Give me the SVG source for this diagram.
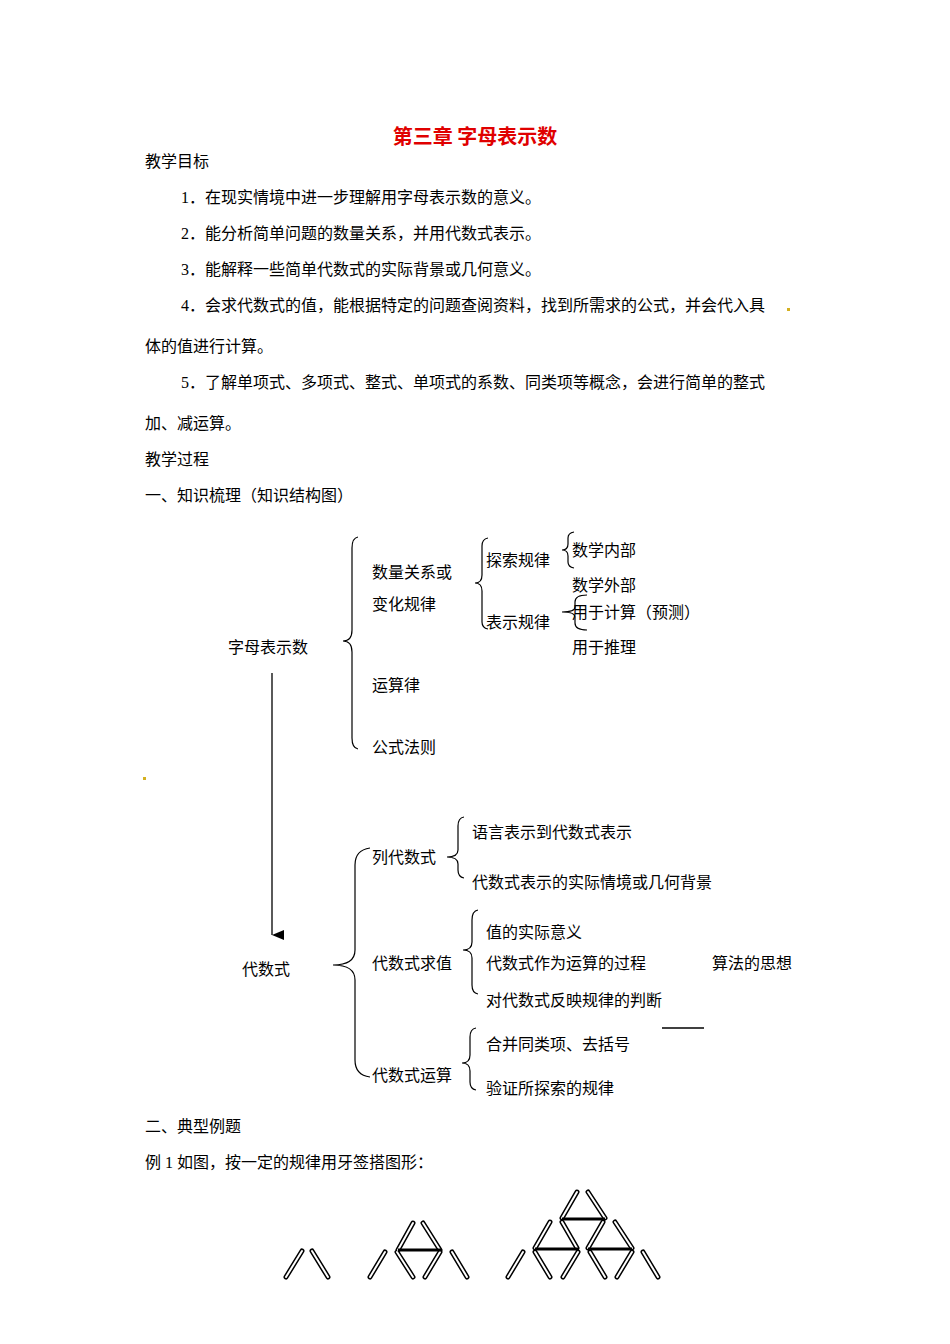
<svg xmlns="http://www.w3.org/2000/svg" width="950" height="1344" viewBox="0 0 950 1344">
<style>
text{font-family:"Liberation Serif","Noto Sans CJK SC",serif;font-size:16px;fill:#000}
.t{font-size:20px;font-weight:bold;fill:#e00000;font-family:"Noto Sans CJK SC",sans-serif}
.b{fill:none;stroke:#000;stroke-width:1.2}
.so{stroke:#000;stroke-width:5;stroke-linecap:round}
.si{stroke:#fff;stroke-width:2;stroke-linecap:round}
.h{stroke:#000;stroke-width:3}
</style>
<defs><marker id="ar" markerWidth="10" markerHeight="12" refX="5" refY="12" orient="auto" markerUnits="userSpaceOnUse"><path d="M0,0 L10,0 L5,12 Z" fill="#000"/></marker></defs>
<rect width="950" height="1344" fill="#fff"/>
<text class="t" x="475" y="144" text-anchor="middle">第三章  字母表示数</text>
<text x="145" y="167">教学目标</text>
<text x="181" y="203">1．在现实情境中进一步理解用字母表示数的意义。</text>
<text x="181" y="239">2．能分析简单问题的数量关系，并用代数式表示。</text>
<text x="181" y="275">3．能解释一些简单代数式的实际背景或几何意义。</text>
<text x="181" y="311">4．会求代数式的值，能根据特定的问题查阅资料，找到所需求的公式，并会代入具</text>
<text x="145" y="352">体的值进行计算。</text>
<text x="181" y="388">5．了解单项式、多项式、整式、单项式的系数、同类项等概念，会进行简单的整式</text>
<text x="145" y="429">加、减运算。</text>
<text x="145" y="465">教学过程</text>
<text x="145" y="501">一、知识梳理（知识结构图）</text>
<rect x="787" y="308" width="3" height="3" fill="#d4b020"/>
<rect x="143" y="777" width="3" height="3" fill="#d4b020"/>
<g id="n-root"><text x="228" y="653">字母表示数</text></g>
<g id="n-1"><text x="372" y="578">数量关系或</text><text x="372" y="610">变化规律</text></g>
<g id="n-1a"><text x="486" y="566">探索规律</text></g>
<g id="n-1b"><text x="486" y="628">表示规律</text></g>
<g id="n-1a1"><text x="572" y="556">数学内部</text></g>
<g id="n-1a2"><text x="572" y="591">数学外部</text></g>
<g id="n-1b1"><text x="572" y="618">用于计算（预测）</text></g>
<g id="n-1b2"><text x="572" y="653">用于推理</text></g>
<g id="n-2"><text x="372" y="691">运算律</text></g>
<g id="n-3"><text x="372" y="753">公式法则</text></g>
<g id="n-d"><text x="242" y="975">代数式</text></g>
<g id="n-d1"><text x="372" y="863">列代数式</text></g>
<g id="n-d1a"><text x="472" y="838">语言表示到代数式表示</text></g>
<g id="n-d1b"><text x="472" y="888">代数式表示的实际情境或几何背景</text></g>
<g id="n-d2"><text x="372" y="969">代数式求值</text></g>
<g id="n-d2a"><text x="486" y="938">值的实际意义</text></g>
<g id="n-d2b"><text x="486" y="969">代数式作为运算的过程</text></g>
<g id="n-d2c"><text x="486" y="1006">对代数式反映规律的判断</text></g>
<g id="n-alg"><text x="712" y="969">算法的思想</text></g>
<g id="n-d3"><text x="372" y="1081">代数式运算</text></g>
<g id="n-d3a"><text x="486" y="1050">合并同类项、去括号</text></g>
<g id="n-d3b"><text x="486" y="1094">验证所探索的规律</text></g>
<g id="connectors">
<path class="b" d="M358,537 Q352,538 352,548 L352,630 Q352,641 343,641 Q352,641 352,652 L352,738 Q352,748 358,749"/>
<path class="b" d="M488,538 Q482,539 482,546 L482,575 Q482,583 475,583 Q482,583 482,591 L482,622 Q482,628 488,629"/>
<path class="b" d="M574,532 Q568,533 568,538 L568,544 Q568,550 562,550 Q568,550 568,556 L568,562 Q568,567 574,568"/>
<path class="b" d="M587,595 Q575,595 575,602 L575,607 Q575,612 562,612 Q575,612 575,617 L575,623 Q575,630 587,630"/>
<path class="b" d="M370,848 Q355,850 355,865 L355,950 Q355,965 333,965 Q355,965 355,980 L355,1060 Q355,1075 370,1077"/>
<path class="b" d="M464,817 Q458,818 458,826 L458,850 Q458,857 447,857 Q458,857 458,864 L458,870 Q458,877 464,878"/>
<path class="b" d="M478,910 Q472,911 472,920 L472,942 Q472,950 463,950 Q472,950 472,958 L472,985 Q472,993 478,994"/>
<path class="b" d="M476,1028 Q470,1029 470,1037 L470,1055 Q470,1063 462,1063 Q470,1063 470,1071 L470,1082 Q470,1089 476,1090"/>
<line x1="272" y1="673" x2="272" y2="935" stroke="#000" stroke-width="1.3" marker-end="url(#ar)"/>
<line x1="662" y1="1028" x2="704" y2="1028" stroke="#000" stroke-width="1.5"/>
</g>
<text x="145" y="1132">二、典型例题</text>
<text x="145" y="1168">例 1 如图，按一定的规律用牙签搭图形：</text>
<g id="figs">
<g id="sticks">
<path class="so" d="M286,1277L302,1251M312,1251L328,1277M370,1277L385,1252M397,1252L413,1277M440,1252L425,1277M452,1252L467,1277M413,1223L398,1250M423,1223L440,1250M523,1252L508,1277M535,1252L550,1277M578,1252L563,1277M590,1252L605,1277M632,1252L617,1277M643,1252L658,1277M550,1222L535,1248M562,1222L577,1248M603,1222L588,1248M615,1222L632,1248M577,1192L562,1218M588,1192L605,1218"/>
<path class="si" d="M286,1277L302,1251M312,1251L328,1277M370,1277L385,1252M397,1252L413,1277M440,1252L425,1277M452,1252L467,1277M413,1223L398,1250M423,1223L440,1250M523,1252L508,1277M535,1252L550,1277M578,1252L563,1277M590,1252L605,1277M632,1252L617,1277M643,1252L658,1277M550,1222L535,1248M562,1222L577,1248M603,1222L588,1248M615,1222L632,1248M577,1192L562,1218M588,1192L605,1218"/>
<path class="h" d="M398,1250L441,1250M535,1249L578,1249M588,1249L632,1249M562,1219L605,1219"/>
</g>
</g>
</svg>
